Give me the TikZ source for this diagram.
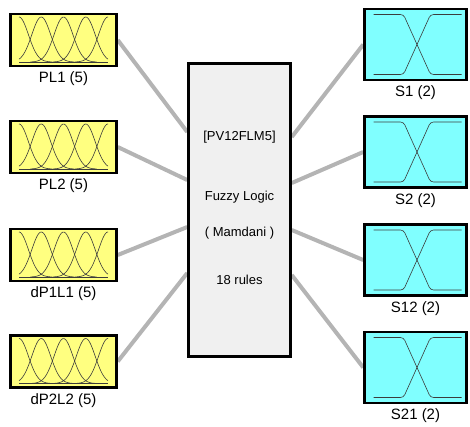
\documentclass[tikz,border=0pt]{standalone}
\usepackage{fontspec}
\setmainfont{Liberation Sans}
\usepackage{xcolor}
\usepackage{tikz}
\usetikzlibrary{positioning}
\usetikzlibrary{backgrounds}

\definecolor{mfyellow}{RGB}{255,255,128}
\definecolor{mfcyan}{RGB}{128,255,255}
\definecolor{fisgray}{RGB}{240,240,240}
\definecolor{linkgray}{RGB}{180,180,180}
\definecolor{curvegray}{RGB}{60,60,60}

\tikzset{
    inbox/.style={draw=black, line width=2.5pt, fill=mfyellow, minimum width=106pt, minimum height=52pt, inner sep=0pt},
    outbox/.style={draw=black, line width=2.5pt, fill=mfcyan, minimum width=102pt, minimum height=71pt, inner sep=0pt},
    fisbox/.style={draw=black, line width=2.5pt, fill=fisgray, minimum width=102pt, minimum height=293pt, inner sep=0pt},
    tag/.style={font=\fontsize{15}{18}\selectfont, inner sep=0pt},
    fistext/.style={font=\fontsize{13}{16}\selectfont, inner sep=0pt},
    link/.style={draw=linkgray, line width=4pt},
    mf/.style={draw=curvegray, line width=0.6pt}
}

\begin{document}
\begin{tikzpicture}[x=1pt, y=-1pt]
        \useasboundingbox (0,0) rectangle (470,426);

        \node[inbox] (pl1) at (63.5,40) {};
        \node[inbox] (pl2) at (63.5,147) {};
        \node[inbox] (dp1l1) at (63.5,255) {};
        \node[inbox] (dp2l2) at (63.5,361.5) {};

        \node[outbox] (s1) at (415.5,44.5) {};
        \node[outbox] (s2) at (415.5,152) {};
        \node[outbox] (s12) at (415.5,260) {};
        \node[outbox] (s21) at (415.5,367.5) {};

        \node[fisbox] (fis) at (239.5,210) {};

        \foreach \n/\t in {pl1/PL1 (5), pl2/PL2 (5), dp1l1/dP1L1 (5), dp2l2/dP2L2 (5), s1/S1 (2), s2/S2 (2), s12/S12 (2), s21/S21 (2)}
            \node[tag, below=4.5pt of \n] (\n tag) {\t};

        \foreach \n in {pl1, pl2, dp1l1, dp2l2} {
            \foreach \c/\a/\b in {-44.5/-44.5/-11.5, -22.25/-44.5/10.75, 0/-33/33, 22.25/-10.75/44.5, 44.5/11.5/44.5}
                \draw[mf, shift={(\n.center)}] plot[domain=\a:\b, samples=50, smooth] (\x, {22-45*exp(-((\x-(\c))^2)/178.6)});
            \draw[mf, shift={(\n.center)}] (-44.5,22) -- (44.5,22);
        }

        \foreach \n in {s1, s2, s12, s21} {
            \draw[mf, rounded corners=3pt, shift={(\n.center)}] (-42,-30) -- (-12,-30) -- (15,30) -- (46,30);
            \draw[mf, rounded corners=3pt, shift={(\n.center)}] (-42,30) -- (-12,30) -- (15,-30) -- (46,-30);
        }

        \node[fistext] (fisname) at ([yshift=73pt]fis.center) {[PV12FLM5]};
        \node[fistext] (fistype) at ([yshift=13pt]fis.center) {Fuzzy Logic};
        \node[fistext] (fismethod) at ([yshift=-23pt]fis.center) {( Mamdani )};
        \node[fistext] (fisrules) at ([yshift=-70pt]fis.center) {18 rules};

        \begin{scope}[on background layer]
            \foreach \n/\y in {pl1/132, pl2/180, dp1l1/227, dp2l2/273}
                \draw[link] (\n.east) -- (fis.west |- 0,\y);
            \foreach \n/\y in {s1/137, s2/183, s12/230, s21/275}
                \draw[link] (fis.east |- 0,\y) -- (\n.west);
        \end{scope}
\end{tikzpicture}
\end{document}
